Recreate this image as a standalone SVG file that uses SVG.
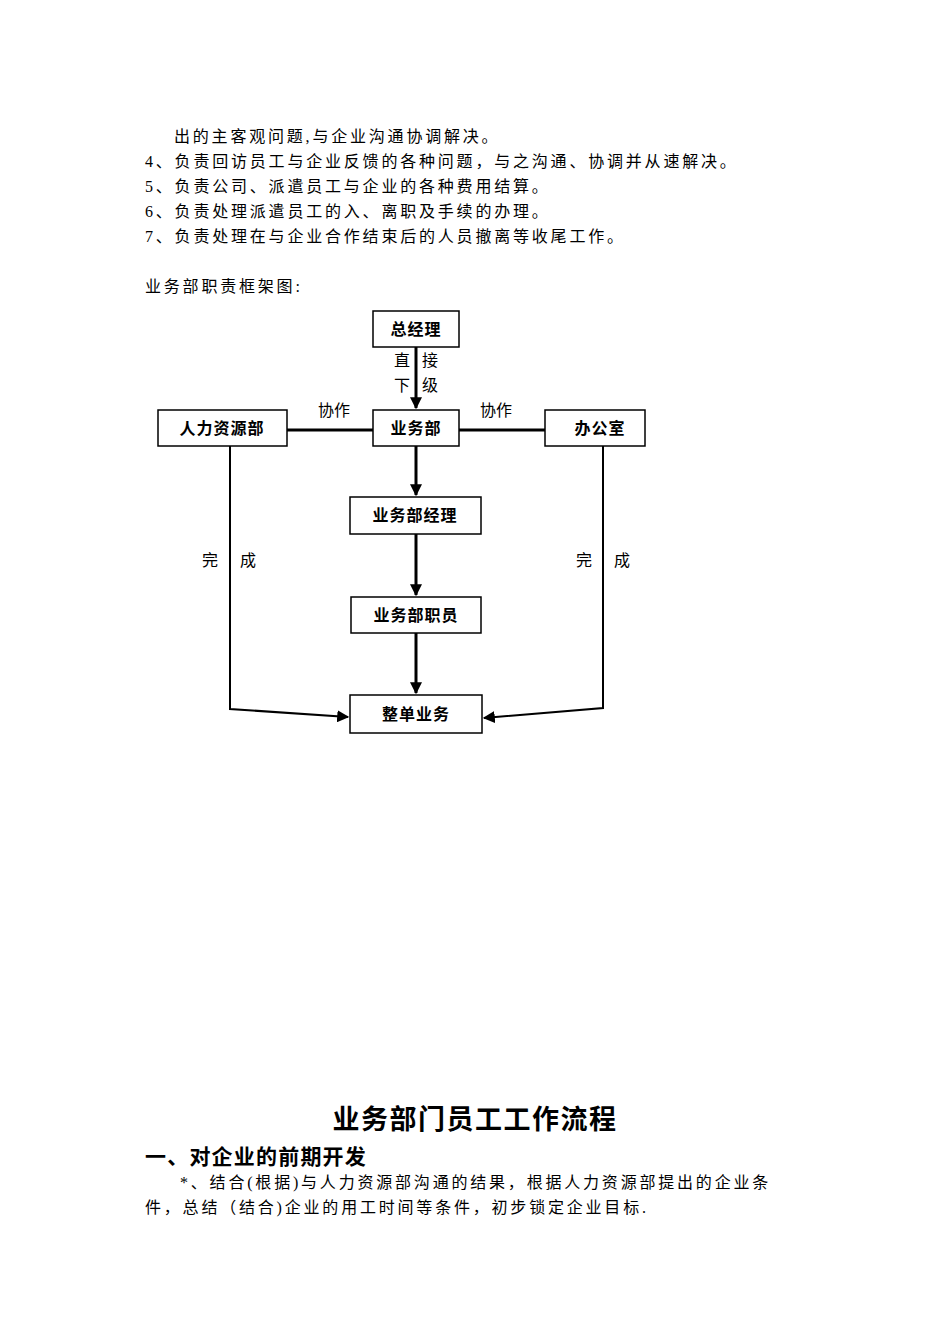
<svg xmlns="http://www.w3.org/2000/svg" width="950" height="1344" viewBox="0 0 950 1344">
<style>
text{font-family:"Liberation Serif","Noto Sans CJK SC",serif;fill:#000}
.t{font-size:16px;letter-spacing:2.8px}
.b{font-size:16px;font-weight:bold;text-anchor:middle;letter-spacing:1px}
.box{fill:#fff;stroke:#000;stroke-width:1.5}
.ln{stroke:#000;stroke-width:3;fill:none}
.th{stroke:#000;stroke-width:2;fill:none}
</style>
<defs>
<marker id="a" viewBox="0 0 10 10" refX="9" refY="5" markerWidth="4" markerHeight="4" orient="auto"><path d="M0,0L10,5L0,10z" fill="#000"/></marker>
<marker id="a2" viewBox="0 0 10 10" refX="9" refY="5" markerWidth="6" markerHeight="6" orient="auto"><path d="M0,0L10,5L0,10z" fill="#000"/></marker>
</defs>
<rect width="950" height="1344" fill="#fff"/>
<text class="t" x="174" y="142">出的主客观问题,与企业沟通协调解决。</text>
<text class="t" x="145" y="167">4、负责回访员工与企业反馈的各种问题，与之沟通、协调并从速解决。</text>
<text class="t" x="145" y="192">5、负责公司、派遣员工与企业的各种费用结算。</text>
<text class="t" x="145" y="217">6、负责处理派遣员工的入、离职及手续的办理。</text>
<text class="t" x="145" y="242">7、负责处理在与企业合作结束后的人员撤离等收尾工作。</text>
<text class="t" x="145" y="292">业务部职责框架图:</text>
<g id="connectors">
<line class="ln" x1="416" y1="347" x2="416" y2="408" marker-end="url(#a)"/>
<line class="ln" x1="287" y1="430" x2="373" y2="430"/>
<line class="ln" x1="459" y1="430" x2="545" y2="430"/>
<line class="ln" x1="416" y1="446" x2="416" y2="495" marker-end="url(#a)"/>
<line class="ln" x1="416" y1="534" x2="416" y2="595" marker-end="url(#a)"/>
<line class="ln" x1="416" y1="633" x2="416" y2="693" marker-end="url(#a)"/>
<polyline class="th" points="230,446 230,709 348,717" marker-end="url(#a2)"/>
<polyline class="th" points="603,446 603,708 484,718" marker-end="url(#a2)"/>
</g>
<g id="labels" style="font-size:16px">
<text x="394" y="366">直</text><text x="422" y="366">接</text>
<text x="394" y="391">下</text><text x="422" y="391">级</text>
<text x="318" y="416">协作</text><text x="480" y="416">协作</text>
<text x="202" y="566">完</text><text x="240" y="566">成</text>
<text x="576" y="566">完</text><text x="614" y="566">成</text>
</g>
<g id="n1"><rect class="box" x="373" y="311" width="86" height="36"/><text class="b" x="416" y="335">总经理</text></g>
<g id="n2"><rect class="box" x="373" y="410" width="86" height="36"/><text class="b" x="416" y="434">业务部</text></g>
<g id="n3"><rect class="box" x="158" y="410" width="129" height="36"/><text class="b" x="222" y="434">人力资源部</text></g>
<g id="n4"><rect class="box" x="545" y="410" width="100" height="36"/><text class="b" x="600" y="434">办公室</text></g>
<g id="n5"><rect class="box" x="350" y="497" width="131" height="37"/><text class="b" x="415" y="521">业务部经理</text></g>
<g id="n6"><rect class="box" x="351" y="597" width="130" height="36"/><text class="b" x="416" y="621">业务部职员</text></g>
<g id="n7"><rect class="box" x="350" y="695" width="132" height="38"/><text class="b" x="416" y="720">整单业务</text></g>
<text x="475" y="1129" style="font-size:27px;font-weight:bold;text-anchor:middle;letter-spacing:1.5px">业务部门员工工作流程</text>
<text x="145" y="1164" style="font-size:21px;font-weight:bold;letter-spacing:1.2px">一、对企业的前期开发</text>
<text class="t" x="180" y="1188">*、结合(根据)与人力资源部沟通的结果，根据人力资源部提出的企业条</text>
<text class="t" x="145" y="1213">件，总结（结合)企业的用工时间等条件，初步锁定企业目标.</text>
</svg>
